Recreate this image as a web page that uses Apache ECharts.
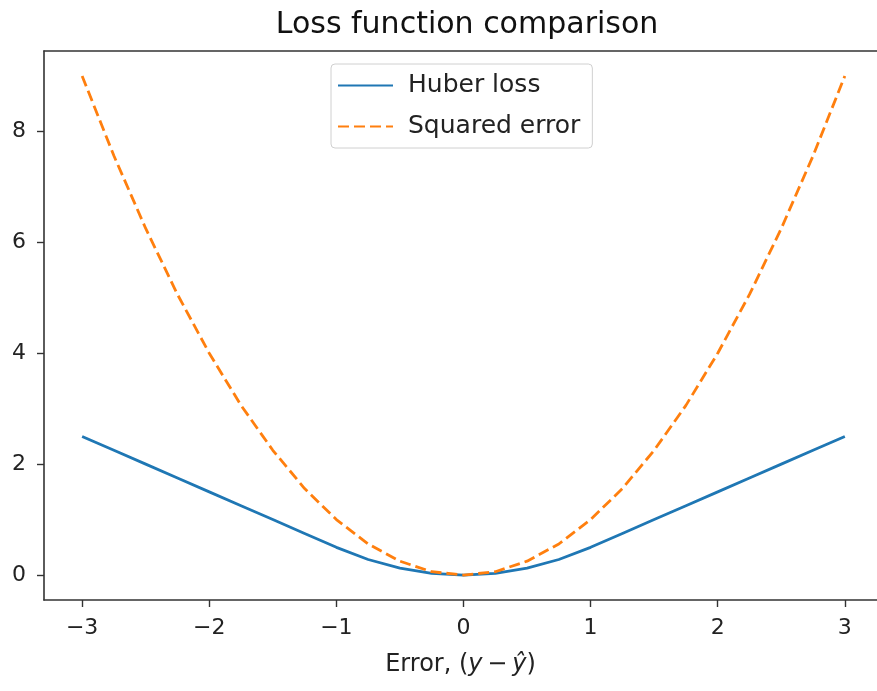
<!DOCTYPE html>
<html>
<head>
<meta charset="utf-8">
<script src="https://cdn.jsdelivr.net/npm/echarts@6/dist/echarts.min.js"></script>
<style>
  html, body { margin: 0; padding: 0; background: #fff; }
  #chart { width: 877px; height: 691px; }
</style>
</head>
<body>
<div id="chart"></div>
<script>
// values
var errors = [-3, -2.75, -2.5, -2.25, -2, -1.75, -1.5, -1.25, -1, -0.75, -0.5, -0.25, 0,
              0.25, 0.5, 0.75, 1, 1.25, 1.5, 1.75, 2, 2.25, 2.5, 2.75, 3];
var huber = [2.5, 2.25, 2.0, 1.75, 1.5, 1.25, 1.0, 0.75, 0.5, 0.28, 0.125, 0.03, 0,
             0.03, 0.125, 0.28, 0.5, 0.75, 1.0, 1.25, 1.5, 1.75, 2.0, 2.25, 2.5];
var squared = [9.0, 7.56, 6.25, 5.06, 4.0, 3.06, 2.25, 1.56, 1.0, 0.56, 0.25, 0.06, 0,
               0.06, 0.25, 0.56, 1.0, 1.56, 2.25, 3.06, 4.0, 5.06, 6.25, 7.56, 9.0];
var xTicks = [-3, -2, -1, 0, 1, 2, 3];
var yTicks = [0, 2, 4, 6, 8];

function pairs(xs, ys) {
    var out = [];
    for (var i = 0; i < xs.length; i++) out.push([xs[i], ys[i]]);
    return out;
}
function minus(v) { return String(v).replace('-', '\u2212'); }

var font = 'DejaVu Sans';
var axisColor = '#333';
var chart = echarts.init(document.getElementById('chart'));

// the plot box is cut off at the right edge of the picture, so x stops at ~3.25
var option = {
    animation: false,
    backgroundColor: '#fff',
    textStyle: { fontFamily: font },
    title: {
        text: 'Loss function comparison',
        left: 462, top: 5, textAlign: 'center',
        textStyle: { fontFamily: font, fontSize: 30, fontWeight: 'normal', color: '#111' }
    },
    legend: {
        orient: 'vertical',
        left: 331, top: 64,
        padding: [9, 12, 9, 6],
        itemWidth: 55, itemHeight: 18, itemGap: 16,
        backgroundColor: '#fff',
        borderColor: '#d0d0d0', borderWidth: 1, borderRadius: 4,
        itemStyle: { opacity: 0 },
        textStyle: { fontFamily: font, fontSize: 25, color: '#222', padding: [0, 0, 0, 10] },
        data: ['Huber loss', 'Squared error']
    },
    grid: { left: 44, right: 0, top: 51, bottom: 91 },
    xAxis: [
        {
            type: 'value', min: -3.3, max: 3.253,
            name: '{n|Error, (}{i|y\u2009\u2212\u2009ŷ}{n|)}',
            nameLocation: 'middle', nameGap: 53,
            nameTextStyle: {
                rich: {
                    n: { fontFamily: font, fontSize: 24, color: '#222' },
                    i: { fontFamily: font, fontSize: 24, color: '#222', fontStyle: 'italic' }
                }
            },
            splitLine: { show: false },
            axisLine: { onZero: false, lineStyle: { color: axisColor, width: 1.6 } },
            axisTick: { show: true, length: 7, inside: false, customValues: xTicks, lineStyle: { color: axisColor, width: 1.4 } },
            axisLabel: { customValues: xTicks, margin: 17, fontSize: 22, color: '#222', fontFamily: font, formatter: minus }
        },
        {
            // top spine only
            type: 'value', position: 'top', min: -3.3, max: 3.253,
            splitLine: { show: false },
            axisLine: { show: true, onZero: false, lineStyle: { color: axisColor, width: 1.6 } },
            axisTick: { show: false },
            axisLabel: { show: false }
        }
    ],
    yAxis: {
        type: 'value', min: -0.45, max: 9.45,
        splitLine: { show: false },
        axisLine: { show: true, onZero: false, lineStyle: { color: axisColor, width: 1.6 } },
        axisTick: { show: true, length: 7, inside: false, customValues: yTicks, lineStyle: { color: axisColor, width: 1.4 } },
        axisLabel: { customValues: yTicks, margin: 18, fontSize: 22, color: '#222', fontFamily: font, formatter: minus }
    },
    series: [
        {
            name: 'Huber loss', type: 'line', symbol: 'none',
            data: pairs(errors, huber),
            itemStyle: { color: '#1f77b4' },
            lineStyle: { color: '#1f77b4', width: 2.8 }
        },
        {
            name: 'Squared error', type: 'line', symbol: 'none',
            data: pairs(errors, squared),
            itemStyle: { color: '#ff7f0e' },
            lineStyle: { color: '#ff7f0e', width: 2.8, type: [11, 5] }
        }
    ]
};

chart.setOption(option);
</script>
</body>
</html>
